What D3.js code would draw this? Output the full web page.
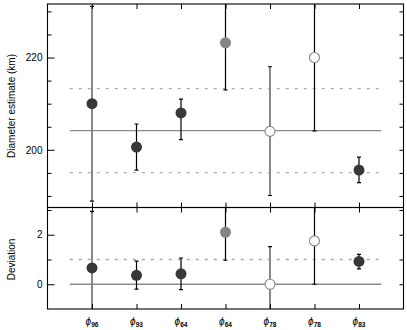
<!DOCTYPE html>
<html>
<head>
<meta charset="utf-8">
<script src="https://cdn.jsdelivr.net/npm/d3@7"></script>
<style>
body { margin:0; background:#fff; }
svg text { font-family: "Liberation Sans", Arial, sans-serif; }
</style>
</head>
<body>
<svg id="chart" width="407" height="330"></svg>
<script>
// subscripts of the phi labels
var labels = ["96","93","64","64","78","78","83"];

// top panel: diameter estimates (km) with error bar ends
var diam     = [210.0, 200.6, 208.0, 223.2, 204.0, 220.0, 195.6];
var diamLow  = [188.9, 195.6, 202.2, 213.0, 190.1, 204.1, 192.9];
var diamHigh = [231.1, 205.6, 211.0, 233.4, 218.0, 236.0, 198.4];

// bottom panel: deviation
var dev     = [0.66, 0.36, 0.42, 2.10, 0.00, 1.75, 0.92];
var devLow  = [-1.64, -0.20, -0.22, 0.97, -1.52, 0.00, 0.62];
var devHigh = [2.94, 0.93, 1.06, 3.23, 1.52, 3.50, 1.21];

// marker kind per point
var kind = ["dark","dark","dark","grey","open","open","dark"];
var greyBar = [true,false,false,false,true,false,false];

// reference lines
var meanDiam = 204.15, sdDiam = 9.1;
var devRef = [0, 1];

var svg = d3.select("#chart");

var x = d3.scaleLinear().domain([0,8]).range([47.5,403.5]);
var yT = d3.scaleLinear().domain([187.5,231.6]).range([207.5,4]);
var yB = d3.scaleLinear().domain([-1,3.1]).range([309,207.5]);

var pts = labels.map(function(l,i){
    return {i:i+1, lab:l, d:diam[i], dl:diamLow[i], dh:diamHigh[i],
            v:dev[i], vl:devLow[i], vh:devHigh[i], k:kind[i], g:greyBar[i]};
});

//clip paths for the two panels
var defs = svg.append("defs");
defs.append("clipPath").attr("id","clipT").append("rect")
    .attr("x",47.5).attr("y",4).attr("width",356).attr("height",203.5);
defs.append("clipPath").attr("id","clipB").append("rect")
    .attr("x",47.5).attr("y",207.5).attr("width",356).attr("height",101.5);

function panel(y, clipId, val, lo, hi, refs){
    var g = svg.append("g").attr("clip-path","url(#"+clipId+")");

    refs.forEach(function(r){
        g.append("line")
            .attr("x1",x(0.5)).attr("x2",x(7.5))
            .attr("y1",y(r.v)).attr("y2",y(r.v))
            .attr("stroke", r.dash ? "#aaa" : "#8c8c8c")
            .attr("stroke-width",1.3)
            .attr("stroke-dasharray", r.dash ? "3,6" : null);
    });

    // error bars
    g.selectAll(".bar").data(pts).enter().append("line")
        .attr("x1",function(d){return x(d.i);}).attr("x2",function(d){return x(d.i);})
        .attr("y1",function(d){return y(d[lo]);}).attr("y2",function(d){return y(d[hi]);})
        .attr("stroke",function(d){return d.g ? "#888" : "#000";})
        .attr("stroke-width",function(d){return d.g ? 2 : 1.2;});

    [lo,hi].forEach(function(key){
        g.selectAll(".cap"+key).data(pts).enter().append("line")
            .attr("x1",function(d){return x(d.i)-2;}).attr("x2",function(d){return x(d.i)+2;})
            .attr("y1",function(d){return y(d[key]);}).attr("y2",function(d){return y(d[key]);})
            .attr("stroke","#000").attr("stroke-width",1.2);
    });

    // markers
    g.selectAll(".pt").data(pts).enter().append("circle")
        .attr("cx",function(d){return x(d.i);})
        .attr("cy",function(d){return y(d[val]);})
        .attr("r",function(d){return d.k=="open" ? 5 : 5.5;})
        .attr("fill",function(d){
            if (d.k=="dark") { return "#383838"; }
            if (d.k=="grey") { return "#858585"; }
            return "#fff";
        })
        .attr("stroke",function(d){return d.k=="open" ? "#888" : "none";})
        .attr("stroke-width",1.1);
}

panel(yT,"clipT","d","dl","dh",[
    {v:meanDiam,dash:false},{v:meanDiam+sdDiam,dash:true},{v:meanDiam-sdDiam,dash:true}]);
panel(yB,"clipB","v","vl","vh",devRef.map(function(v){return {v:v,dash:v!=0};}));

// axes, ticks inward
function yAxes(y, major, minor){
    svg.append("g").attr("transform","translate(47.5,0)")
        .call(d3.axisLeft(y).tickValues(minor).tickSize(-4).tickFormat(""));
    svg.append("g").attr("transform","translate(47.5,0)")
        .call(d3.axisLeft(y).tickValues(major).tickSize(-7).tickPadding(5).tickFormat(d3.format("d")));
    svg.append("g").attr("transform","translate(403.5,0)")
        .call(d3.axisRight(y).tickValues(minor.concat(major)).tickSize(-4).tickFormat(""));
}
yAxes(yT,[200,220],[190,195,205,210,215,225,230]);
yAxes(yB,[0,2],[1,3]);

// x ticks on every panel edge, pointing into the panel
var xt = d3.range(1,8);
svg.append("g").attr("transform","translate(0,4)")
    .call(d3.axisTop(x).tickValues(xt).tickSize(-5).tickFormat(""));
svg.append("g").attr("transform","translate(0,207.5)")
    .call(d3.axisTop(x).tickValues(xt).tickSize(5).tickFormat(""));
svg.append("g").attr("transform","translate(0,207.5)")
    .call(d3.axisBottom(x).tickValues(xt).tickSize(5).tickFormat(""));
svg.append("g").attr("transform","translate(0,309)")
    .call(d3.axisBottom(x).tickValues(xt).tickSize(-5).tickFormat(""));

svg.selectAll(".domain").remove();
svg.selectAll(".tick line").attr("stroke","#000").attr("stroke-width",1);
svg.selectAll(".tick text").attr("font-size",10).attr("fill","#000");

// frames
[[4,207.5],[207.5,309]].forEach(function(r){
    svg.append("rect").attr("x",47.5).attr("y",r[0]).attr("width",356).attr("height",r[1]-r[0])
        .attr("fill","none").attr("stroke","#000").attr("stroke-width",1.1);
});

// x labels
var xl = svg.append("g").selectAll("text").data(pts).enter().append("text")
    .attr("x",function(d){return x(d.i);}).attr("y",325)
    .attr("text-anchor","middle").attr("font-size",10);
xl.append("tspan").attr("font-style","italic").text("\u03D5");
xl.append("tspan").attr("font-size",6.5).attr("dy",1.5).attr("font-weight","bold")
    .text(function(d){return d.lab;});

// y titles
svg.append("text").attr("transform","translate(15,"+yT(209.5)+") rotate(-90)")
    .attr("text-anchor","middle").attr("font-size",10).text("Diameter estimate (km)");
svg.append("text").attr("transform","translate(15,"+yB(1.0)+") rotate(-90)")
    .attr("text-anchor","middle").attr("font-size",10).text("Deviation");
</script>
</body>
</html>
